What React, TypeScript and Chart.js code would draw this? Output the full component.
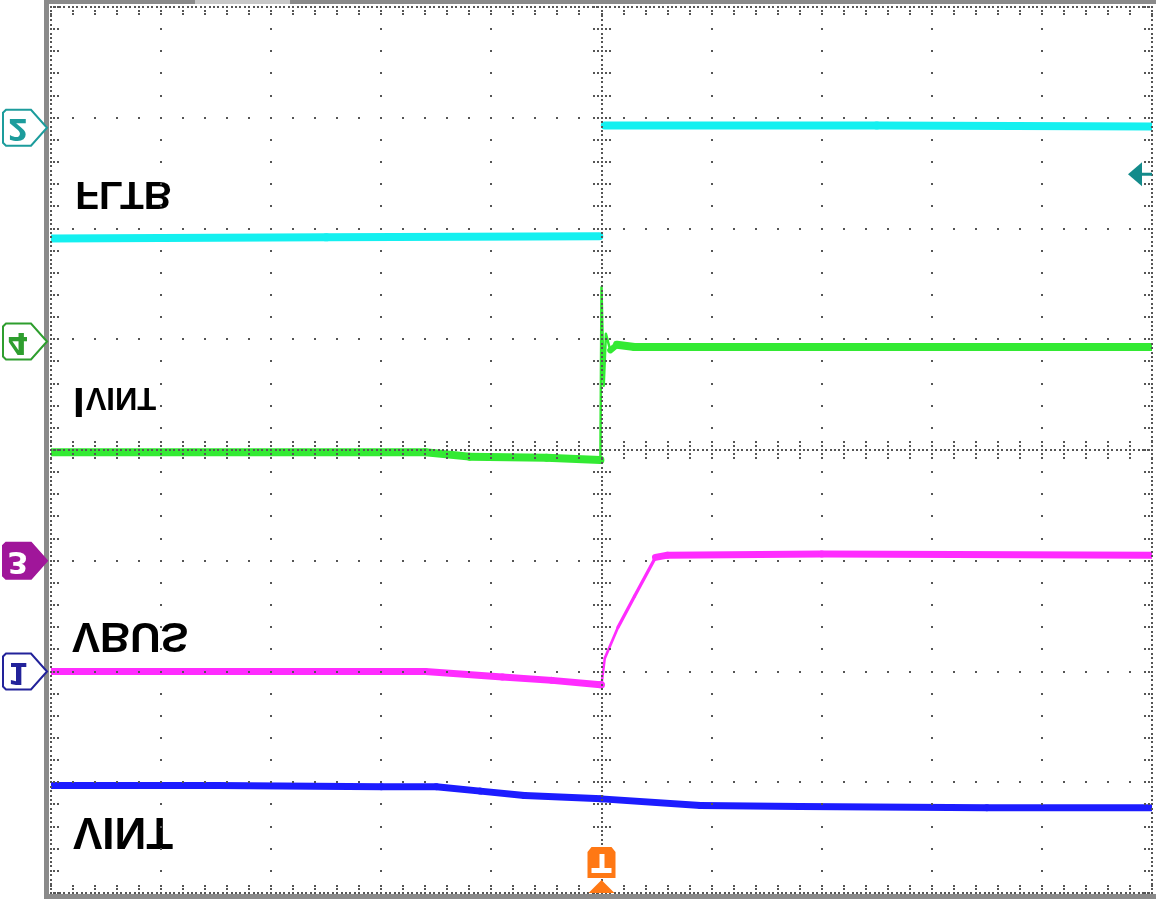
import React, { useEffect, useRef } from "react";
import { Chart, registerables } from "chart.js";

Chart.register(...registerables);

// Time axis in horizontal divisions (0..10), trigger at division 5.
// Amplitudes in vertical divisions (-4..4), screen centre = 0.
const FLTB_T = [0, 2.5, 4.98, 4.99, 5.03, 7.5, 10];
const FLTB_V = [1.91, 1.92, 1.93, null, 2.93, 2.93, 2.92];

const IVINT_T = [0, 2.0, 3.4, 3.8, 4.5, 4.99, 5.0, 5.02, 5.04, 5.08, 5.14, 5.3, 6, 8, 10];
const IVINT_V = [-0.02, -0.02, -0.02, -0.06, -0.07, -0.09, 1.47, 0.58, 1.05, 0.9, 0.95, 0.93, 0.93, 0.93, 0.93];

const VBUS_T = [0, 2, 3.4, 4.1, 4.55, 4.99, 5.0, 5.03, 5.15, 5.3, 5.49, 5.6, 7, 10];
const VBUS_V = [-2.0, -2.0, -2.0, -2.05, -2.08, -2.12, -2.12, -1.88, -1.6, -1.32, -0.97, -0.95, -0.94, -0.95];

const VINT_T = [0, 1.5, 3.0, 3.5, 3.9, 4.3, 5.0, 5.9, 6.8, 8.5, 10];
const VINT_V = [-3.03, -3.03, -3.04, -3.04, -3.08, -3.12, -3.15, -3.21, -3.22, -3.23, -3.23];

const TRACE_LABELS = ["FLTB", "IVINT", "VBUS", "VINT"];
const CH_MARKERS = ["2", "4", "3", "1"];
const CH_MARKER_LEVELS = [2.91, 0.98, -1.0, -2.0];
const TRIGGER_TIME = 5;
const TRIGGER_LEVEL = 2.49;

const pts = (t: number[], v: (number | null)[]) => t.map((x, i) => ({ x, y: v[i] }));

function flipText(ctx: CanvasRenderingContext2D, text: string, x: number, topY: number, font: string) {
  ctx.save();
  ctx.translate(x, topY);
  ctx.scale(1, -1);
  ctx.font = font;
  ctx.textBaseline = "alphabetic";
  ctx.textAlign = "left";
  ctx.fillText(text, 0, 0);
  ctx.restore();
}

const scopePlugin = {
  id: "scope",
  afterDatasetsDraw(chart: any) {
    const ctx: CanvasRenderingContext2D = chart.ctx;
    const xs = chart.scales.x;
    const ys = chart.scales.y;
    const { left, right, top, bottom } = chart.chartArea;
    const px = (v: number) => xs.getPixelForValue(v);
    const py = (v: number) => ys.getPixelForValue(v);

    // trace labels (vertically mirrored, as on the scope screen)
    ctx.save();
    ctx.fillStyle = "#000";
    const labelPos = [
      { x: 0.22, y: 2.42 },
      { x: 0.2, y: 0.56 },
      { x: 0.19, y: -1.56 },
      { x: 0.2, y: -3.32 },
    ];
    TRACE_LABELS.forEach((txt, i) => {
      const x = px(labelPos[i].x);
      const y = py(labelPos[i].y);
      if (txt === "IVINT") {
        ctx.font = "bold 42px 'Liberation Sans', Arial, sans-serif";
        const w = ctx.measureText("I").width;
        flipText(ctx, "I", x, y, "bold 42px 'Liberation Sans', Arial, sans-serif");
        flipText(ctx, "VINT", x + w + 1, y, "bold 31px 'Liberation Sans', Arial, sans-serif");
      } else if (txt === "FLTB") {
        flipText(ctx, txt, x, y, "bold 39px 'Liberation Sans', Arial, sans-serif");
      } else if (txt === "VBUS") {
        flipText(ctx, txt, x, y, "bold 42px 'Liberation Sans', Arial, sans-serif");
      } else {
        flipText(ctx, txt, x, y, "bold 44px 'Liberation Sans', Arial, sans-serif");
      }
    });
    ctx.restore();

    // graticule dots
    ctx.save();
    ctx.fillStyle = "#555";
    const dot = (x: number, y: number, s = 2) => ctx.fillRect(Math.round(x) - 1, Math.round(y) - 1, s, s);
    for (let m = 1; m <= 9; m++) {
      if (m === 5) continue;
      for (let j = 0; j <= 40; j++) dot(px(m), py(-4 + j * 0.2));
    }
    for (let m = -3; m <= 3; m++) {
      if (m === 0) continue;
      for (let i = 0; i <= 50; i++) dot(px(i * 0.2), py(m));
    }
    // centre axes: dense dots plus ticks
    const cx = px(5);
    const cy = py(0);
    for (let k = 0; k <= 200; k++) dot(cx, py(-4 + k * 0.04));
    for (let k = 0; k <= 250; k++) dot(px(k * 0.04), cy);
    for (let j = 0; j <= 40; j++) {
      const y = py(-4 + j * 0.2);
      [-8, -4, 4, 8].forEach((o) => dot(cx + o, y));
    }
    for (let i = 0; i <= 50; i++) {
      const x = px(i * 0.2);
      [-8, -4, 4, 8].forEach((o) => dot(x, cy + o));
    }
    // edges: dense dotted border plus inward ticks
    for (let k = 0; k <= 200; k++) {
      const y = py(-4 + k * 0.04);
      dot(left, y);
      dot(right, y);
    }
    for (let k = 0; k <= 250; k++) {
      const x = px(k * 0.04);
      dot(x, top);
      dot(x, bottom);
    }
    for (let j = 0; j <= 40; j++) {
      const y = py(-4 + j * 0.2);
      [3, 7].forEach((o) => {
        dot(left + o, y);
        dot(right - o, y);
      });
    }
    for (let i = 0; i <= 50; i++) {
      const x = px(i * 0.2);
      [4, 7].forEach((o) => {
        dot(x, top + o);
        dot(x, bottom - o);
      });
    }
    ctx.restore();

    // outer frame
    ctx.save();
    ctx.fillStyle = "#8a8a8a";
    ctx.fillRect(left - 7, 0, 5, bottom + 6);
    ctx.fillRect(left - 7, bottom + 1, right - left + 11, 5);
    ctx.fillRect(left - 7, 0, right - left + 11, 4);
    ctx.fillStyle = "#c8c8c8";
    ctx.fillRect(195, 0, 95, 4);
    ctx.restore();

    // channel markers on the left
    const mColors = ["#1c9c9c", "#2e9e2e", "#a0169a", "#22229a"];
    CH_MARKERS.forEach((label, i) => {
      const ty = py(CH_MARKER_LEVELS[i]);
      const x0 = 3, x1 = 31, xt = left - 4, h = 18;
      ctx.save();
      ctx.beginPath();
      ctx.moveTo(x0 + 3, ty - h);
      ctx.lineTo(x1, ty - h);
      ctx.lineTo(xt, ty);
      ctx.lineTo(x1, ty + h);
      ctx.lineTo(x0 + 3, ty + h);
      ctx.lineTo(x0, ty + h - 3);
      ctx.lineTo(x0, ty - h + 3);
      ctx.closePath();
      const filled = label === "3";
      ctx.fillStyle = filled ? mColors[i] : "#fff";
      ctx.fill();
      ctx.lineWidth = 2;
      ctx.strokeStyle = mColors[i];
      ctx.stroke();
      ctx.translate(18, ty);
      ctx.scale(1, -1);
      ctx.font = "bold 30px 'DejaVu Sans', sans-serif";
      ctx.textAlign = "center";
      ctx.textBaseline = "middle";
      ctx.fillStyle = filled ? "#fff" : mColors[i];
      ctx.fillText(label, 0, 1);
      ctx.restore();
    });

    // trigger position marker (bottom)
    const tx = px(TRIGGER_TIME);
    ctx.save();
    ctx.fillStyle = "#ff7814";
    ctx.beginPath();
    ctx.moveTo(tx - 14, 878);
    ctx.lineTo(tx - 14, 852);
    ctx.lineTo(tx - 10, 847);
    ctx.lineTo(tx + 10, 847);
    ctx.lineTo(tx + 14, 852);
    ctx.lineTo(tx + 14, 878);
    ctx.closePath();
    ctx.fill();
    ctx.fillStyle = "#fff";
    ctx.fillRect(tx - 10, 868, 20, 5);
    ctx.fillRect(tx - 2, 854, 5, 14);
    ctx.fillStyle = "#ff7814";
    ctx.beginPath();
    ctx.moveTo(tx, 880);
    ctx.lineTo(tx + 13, bottom);
    ctx.lineTo(tx - 13, bottom);
    ctx.closePath();
    ctx.fill();

    // trigger level arrow (right)
    const ly = py(TRIGGER_LEVEL);
    ctx.fillStyle = "#138b8b";
    ctx.beginPath();
    ctx.moveTo(right - 24, ly);
    ctx.lineTo(right - 10, ly - 12);
    ctx.lineTo(right - 10, ly + 12);
    ctx.closePath();
    ctx.fill();
    ctx.fillRect(right - 12, ly - 1.5, 12, 3);
    ctx.restore();
  },
};

const widthBySlope = (base: number) => (c: any) => {
  const dx = Math.abs(c.p1.x - c.p0.x);
  const dy = Math.abs(c.p1.y - c.p0.y);
  const len = Math.hypot(dx, dy) || 1;
  return Math.max(2.5, (base * dx) / len);
};

export default function App() {
  const ref = useRef<HTMLCanvasElement>(null);
  useEffect(() => {
    document.body.style.margin = "0";
    const series = [
      { label: "FLTB", data: pts(FLTB_T, FLTB_V), color: "#14f0f0", w: 8 },
      { label: "IVINT", data: pts(IVINT_T, IVINT_V), color: "#33ea33", w: 8 },
      { label: "VBUS", data: pts(VBUS_T, VBUS_V), color: "#ff2cff", w: 7 },
      { label: "VINT", data: pts(VINT_T, VINT_V), color: "#1c1cff", w: 7 },
    ];
    const chart = new Chart(ref.current!, {
      type: "line",
      data: {
        datasets: series.map((s) => ({
          label: s.label,
          data: s.data,
          borderColor: s.color,
          borderWidth: s.w,
          borderCapStyle: "round",
          borderJoinStyle: "round",
          pointRadius: 0,
          tension: 0,
          spanGaps: false,
          segment: { borderWidth: widthBySlope(s.w) },
        })),
      },
      options: {
        animation: false,
        responsive: false,
        devicePixelRatio: 1,
        layout: { padding: { left: 51, right: 12, top: 7, bottom: 11 } },
        plugins: { legend: { display: false }, tooltip: { enabled: false } },
        scales: {
          x: { type: "linear", min: 0, max: 10, display: false },
          y: { type: "linear", min: -4, max: 4, display: false },
        },
      },
      plugins: [scopePlugin],
    } as any);
    return () => chart.destroy();
  }, []);
  return (
    <div style={{ position: "absolute", left: 0, top: 0, width: 1164, height: 904, background: "#fff" }}>
      <canvas ref={ref} width={1164} height={904} style={{ display: "block" }} />
    </div>
  );
}
